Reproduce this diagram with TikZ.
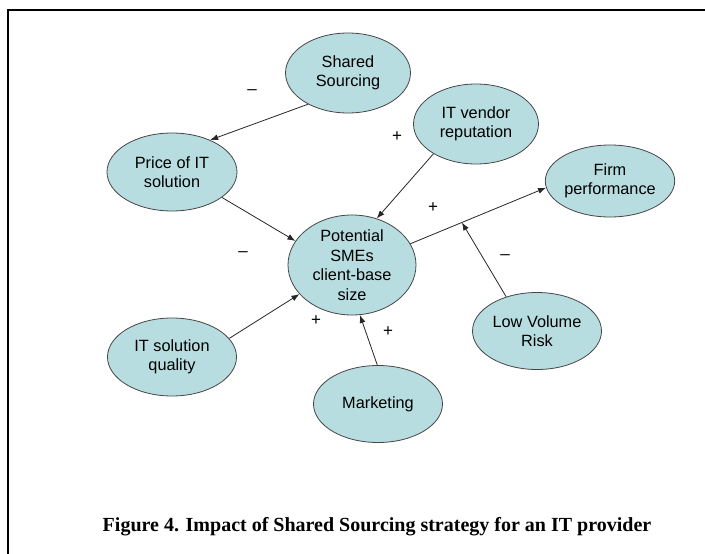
\documentclass[tikz,border=0pt]{standalone}
\usepackage{fontspec}
\setmainfont{Liberation Serif}
\newfontfamily\arialf{Liberation Sans}
\usetikzlibrary{shapes.geometric,arrows.meta,calc}
\definecolor{bub}{RGB}{184,221,225}
\definecolor{edg}{RGB}{70,70,70}
\tikzset{
  bubble/.style={ellipse, draw=edg, line width=0.8pt, fill=bub, inner sep=0pt,
    align=center, font=\arialf\fontsize{16.3}{19.5}\selectfont},
  conn/.style={draw=black!85, line width=0.8pt, -{Latex[length=8pt,width=6pt]}},
  sign/.style={font=\arialf\fontsize{17}{19}\selectfont, inner sep=0pt}
}
\begin{document}
\begin{tikzpicture}[x=1pt,y=-1pt]
\useasboundingbox (0,0) rectangle (705,554);
\draw[line width=2pt] (8,560) -- (8,10) -- (710,10);

\node[bubble, minimum width=125pt, minimum height=80pt] (ss) at (348,73) {Shared\\Sourcing};
\node[bubble, minimum width=125pt, minimum height=80pt] (ven) at (476,124) {IT vendor\\reputation};
\node[bubble, minimum width=130pt, minimum height=78pt] (price) at (172,172) {Price of IT\\solution};
\node[bubble, minimum width=127pt, minimum height=72pt] (firm) at (610,181) {Firm\\performance};
\node[bubble, minimum width=128pt, minimum height=100pt] (pot) at (352,265) {Potential\\SMEs\\client-base\\size};
\node[bubble, minimum width=129pt, minimum height=77pt] (lvr) at (537,331) {Low Volume\\Risk};
\node[bubble, minimum width=129pt, minimum height=78pt] (qual) at (172,357) {IT solution\\quality};
\node[bubble, minimum width=129pt, minimum height=77pt] (mkt) at (378,404) {Marketing};

\coordinate (m) at ($(pot.20)!0.38!(firm.186)$);

\draw[conn] (ss.218) -- (price.40);
\draw[conn] (ven.215) -- (pot.62);
\draw[conn] (price.333) -- (pot.157);
\draw[conn] (qual.18) -- (pot.209);
\draw[conn] (mkt.91) -- (pot.279);
\draw[conn] (pot.20) -- (firm.186);
\draw[conn] (lvr.132) -- (m);

\node[sign] (s1) at (252,92) {–};
\node[sign] (s2) at (397,137) {+};
\node[sign] (s3) at (433,208) {+};
\node[sign] (s4) at (243,254) {–};
\node[sign] (s5) at (505,257) {–};
\node[sign] (s6) at (316,321) {+};
\node[sign] (s7) at (388,332) {+};

\node[font=\bfseries\fontsize{20}{22}\selectfont, inner sep=0pt] (cap) at (377,527) {Figure 4. Impact of Shared Sourcing strategy for an IT provider};
\end{tikzpicture}
\end{document}
